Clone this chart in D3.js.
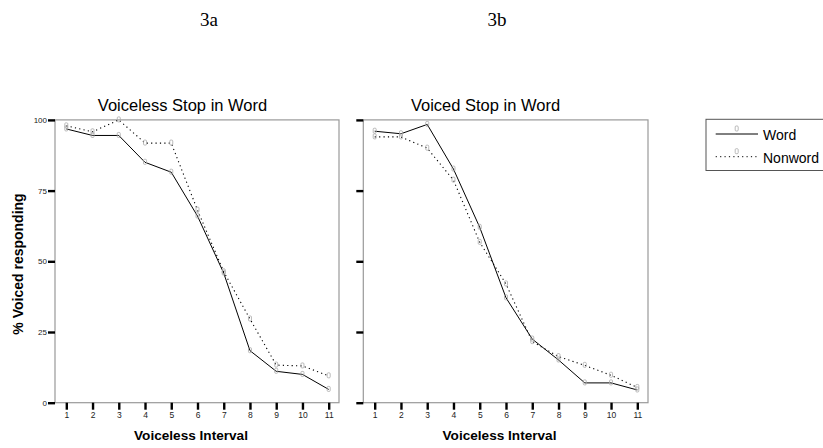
<!DOCTYPE html>
<html><head><meta charset="utf-8">
<script src="https://cdn.jsdelivr.net/npm/d3@7"></script>
<style>body{margin:0;background:#fff}svg{display:block}</style>
</head><body>
<svg id="c" width="823" height="448"></svg>
<script>
const intervals = [1,2,3,4,5,6,7,8,9,10,11];
const yTicks = [0,25,50,75,100];
const panelTitles = ["Voiceless Stop in Word","Voiced Stop in Word"];
const panelTags = ["3a","3b"];
const seriesNames = ["Word","Nonword"];
// Panel a: voiceless stop in word
const aWord    = [96.8,94.5,94.5,85.0,81.5,66.0,45.8,18.4,11.1,10.0,4.7];
const aNonword = [97.9,95.8,100.0,91.8,91.8,68.1,46.3,29.6,13.3,13.0,9.5];
// Panel b: voiced stop in word
const bWord    = [96.0,95.1,98.4,82.6,62.0,37.1,22.5,15.1,7.0,7.0,4.5];
const bNonword = [94.0,94.0,90.0,78.7,56.7,42.0,21.6,16.3,13.2,9.7,5.4];

const svg = d3.select("#c");
const y = d3.scaleLinear().domain([0,100]).range([402.7,119.9]);
const panels = [
  {left:55, right:339, x0:66.3, x1:328.7, word:aWord, non:aNonword, labels:true, titleX:182.5, tagX:209, labX:191},
  {left:363.3, right:648, x0:374.7, x1:637.3, word:bWord, non:bNonword, labels:false, titleX:485.5, tagX:497, labX:499.5}
];

function marker(g, cx, cy){
  g.append("rect").attr("x",cx-1.5).attr("y",cy-3).attr("width",3).attr("height",5)
    .attr("rx",1).attr("fill","none").attr("stroke","#aaa").attr("stroke-width",0.8);
}

panels.forEach((p,i)=>{
  const x = d3.scaleLinear().domain([1,11]).range([p.x0,p.x1]);
  const g = svg.append("g");
  g.append("rect").attr("x",p.left).attr("y",y(100)).attr("width",p.right-p.left).attr("height",y(0)-y(100))
    .attr("fill","none").attr("stroke","#999").attr("stroke-width",1.2);
  const ya = d3.axisLeft(y).tickValues(yTicks).tickSize(7).tickPadding(1)
    .tickFormat(p.labels ? d3.format("d") : "");
  const yg = g.append("g").attr("transform",`translate(${p.left},0)`).call(ya);
  yg.select(".domain").remove();
  yg.selectAll(".tick line").attr("stroke","#000").attr("stroke-width",2.4);
  yg.selectAll(".tick text").attr("font-family","Liberation Sans, Arial, sans-serif").attr("font-size",8).attr("fill","#222");
  const xa = d3.axisBottom(x).tickValues(intervals).tickSize(7).tickPadding(2).tickFormat(d3.format("d"));
  const xg = g.append("g").attr("transform",`translate(0,${y(0)})`).call(xa);
  xg.select(".domain").remove();
  xg.selectAll(".tick line").attr("stroke","#000").attr("stroke-width",2.4);
  xg.selectAll(".tick text").attr("font-family","Liberation Sans, Arial, sans-serif").attr("font-size",8.5).attr("fill","#222");
  const line = d3.line().x((d,j)=>x(intervals[j])).y(d=>y(d));
  g.append("path").datum(p.non).attr("d",line).attr("fill","none").attr("stroke","#000")
    .attr("stroke-width",1.1).attr("stroke-dasharray","1.2,3.2");
  g.append("path").datum(p.word).attr("d",line).attr("fill","none").attr("stroke","#000").attr("stroke-width",1);
  p.non.forEach((v,j)=>marker(g, x(intervals[j]), y(v)));
  p.word.forEach((v,j)=>marker(g, x(intervals[j]), y(v)));
  g.append("text").attr("x",p.titleX).attr("y",110.7).attr("text-anchor","middle")
    .attr("font-family","Liberation Sans, Arial, sans-serif").attr("font-size",16.5).attr("fill","#000")
    .text(panelTitles[i]);
  g.append("text").attr("x",p.labX).attr("y",440).attr("text-anchor","middle")
    .attr("font-family","Liberation Sans, Arial, sans-serif").attr("font-weight","bold").attr("font-size",13.6)
    .text("Voiceless Interval");
  svg.append("text").attr("x",p.tagX).attr("y",26).attr("text-anchor","middle")
    .attr("font-family","Liberation Serif, Times New Roman, serif").attr("font-size",19).text(panelTags[i]);
});

svg.append("text").attr("transform","translate(23,264) rotate(-90)").attr("text-anchor","middle")
  .attr("font-family","Liberation Sans, Arial, sans-serif").attr("font-weight","bold").attr("font-size",14)
  .text("% Voiced responding");

const lg = svg.append("g");
lg.append("rect").attr("x",706).attr("y",119.3).attr("width",140).attr("height",51.2)
  .attr("fill","#fff").attr("stroke","#555").attr("stroke-width",1);
const legendRows = [{y:134, dash:null},{y:156.7, dash:"1.2,3.2"}];
legendRows.forEach((r,i)=>{
  lg.append("line").attr("x1",715.7).attr("x2",758).attr("y1",r.y).attr("y2",r.y)
    .attr("stroke","#000").attr("stroke-width",1).attr("stroke-dasharray",r.dash);
  marker(lg, 736.7, r.y-5);
  lg.append("text").attr("x",763).attr("y",r.y+6).attr("font-family","Liberation Sans, Arial, sans-serif")
    .attr("font-size",14).text(seriesNames[i]);
});
</script>
</body></html>
